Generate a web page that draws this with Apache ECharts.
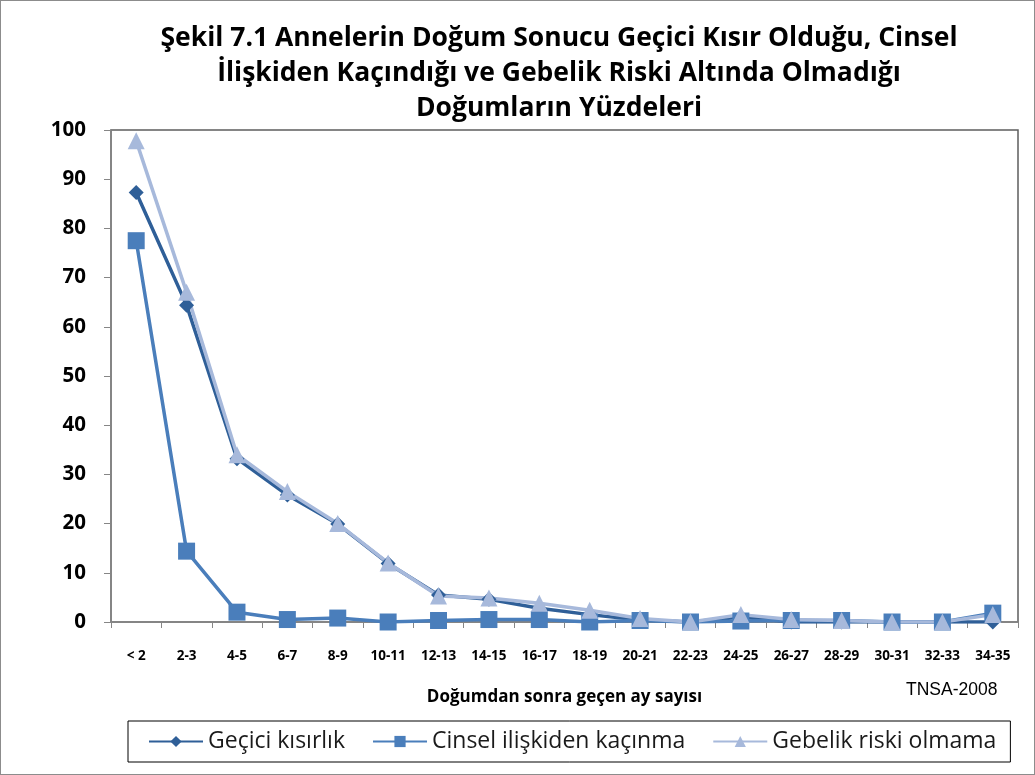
<!DOCTYPE html>
<html><head><meta charset="utf-8">
<script src="https://cdn.jsdelivr.net/npm/echarts@6/dist/echarts.min.js"></script>
<style>html,body{margin:0;padding:0;background:#fff}#c{width:1035px;height:775px;box-sizing:border-box;border:1px solid #8c8c8c}</style>
</head><body><div id="c"></div>
<script>
const categories = ['< 2','2-3','4-5','6-7','8-9','10-11','12-13','14-15','16-17','18-19','20-21','22-23','24-25','26-27','28-29','30-31','32-33','34-35'];
const geciciKisirlik = [87.3,64.4,33.2,25.8,19.9,11.9,5.5,4.6,2.8,1.5,0.4,0,1.0,0,0,0,0,0];
const cinselKacinma  = [77.5,14.4,2.0,0.5,0.8,0,0.3,0.5,0.5,0,0.3,0,0.2,0.3,0.3,0,0,1.8];
const gebelikRiski   = [97.8,67.0,34.0,26.5,20.0,12.0,5.3,4.9,3.8,2.4,0.7,0,1.5,0.5,0.3,0,0,1.5];
const yTicks = [0,10,20,30,40,50,60,70,80,90,100];

const chart = echarts.init(document.getElementById('c'));
const F = 'Open Sans';
chart.setOption({
  animation:false,
  title:{
    text:'Şekil 7.1 Annelerin Doğum Sonucu Geçici Kısır Olduğu, Cinsel\nİlişkiden Kaçındığı ve Gebelik Riski Altında Olmadığı\nDoğumların Yüzdeleri',
    left:553, textAlign:'center', top:15,
    textStyle:{fontFamily:F,fontWeight:'bold',fontSize:26.5,lineHeight:35,color:'#000'}
  },
  grid:{left:110,right:16,top:129,bottom:152,show:true,borderColor:'#5e5e5e',borderWidth:1.5},
  legend:{
    left:127, top:720,
    borderColor:'#000',borderWidth:1,padding:[9,14,9,20],
    itemWidth:54,itemHeight:14,itemGap:27,
    textStyle:{fontFamily:F,fontSize:23,color:'#1a1a1a'},
    data:['Geçici kısırlık','Cinsel ilişkiden kaçınma','Gebelik riski olmama']
  },
  graphic:[{type:'text',left:905,top:680,style:{text:'TNSA-2008',fontFamily:'Liberation Sans',fontSize:17.5,fill:'#000'}}],
  xAxis:{
    type:'category',data:categories,boundaryGap:true,
    name:'Doğumdan sonra geçen ay sayısı',nameLocation:'middle',nameGap:67,
    nameTextStyle:{fontFamily:F,fontWeight:'bold',fontSize:17,color:'#000'},
    axisLine:{lineStyle:{color:'#868686',width:1.5}},
    axisTick:{show:true,interval:0,length:6,lineStyle:{color:'#868686'}},
    axisLabel:{interval:0,margin:27,fontFamily:F,fontWeight:'bold',fontSize:13.5,color:'#000'}
  },
  yAxis:{
    type:'value',min:0,max:100,interval:10,
    axisLine:{show:true,lineStyle:{color:'#868686',width:1.5}},
    axisTick:{show:true,length:7,lineStyle:{color:'#868686'}},
    splitLine:{show:false},
    axisLabel:{margin:25,fontFamily:F,fontWeight:'bold',fontSize:20.5,color:'#000',
      formatter:v=>yTicks.includes(v)?String(v):''}
  },
  series:[
    {name:'Geçici kısırlık',type:'line',data:geciciKisirlik,symbol:'diamond',symbolSize:15,
      lineStyle:{color:'#2F5F98',width:3.5},itemStyle:{color:'#2F5F98'}},
    {name:'Cinsel ilişkiden kaçınma',type:'line',data:cinselKacinma,symbol:'rect',symbolSize:17,
      lineStyle:{color:'#4A7EBB',width:3.5},itemStyle:{color:'#4A7EBB'}},
    {name:'Gebelik riski olmama',type:'line',data:gebelikRiski,symbol:'triangle',symbolSize:17,
      lineStyle:{color:'#A7B9DB',width:3.5},itemStyle:{color:'#A7B9DB'}}
  ]
});
</script></body></html>
